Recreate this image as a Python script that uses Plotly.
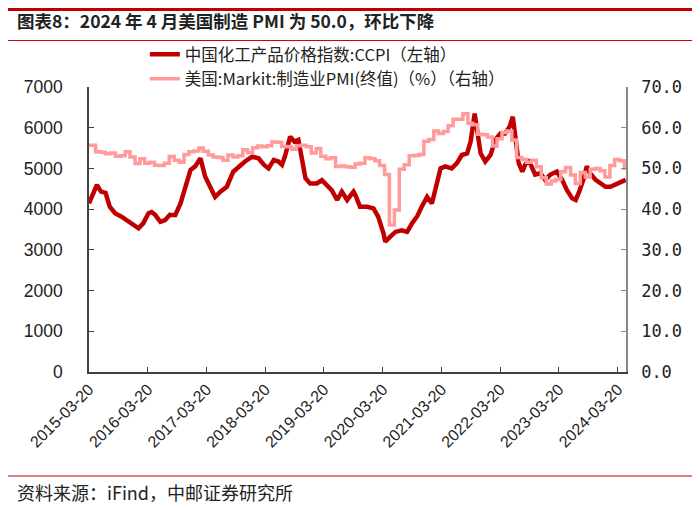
import plotly.graph_objects as go

# 中国化工产品价格指数 CCPI (left axis)
ccpi_dates = [
    '2015-03-20', '2015-05-08', '2015-06-03', '2015-07-01', '2015-07-27', '2015-08-29',
    '2015-10-08', '2015-11-22', '2016-01-22', '2016-02-20', '2016-03-24', '2016-04-12',
    '2016-05-04', '2016-06-06', '2016-07-05', '2016-08-04', '2016-09-06', '2016-10-09',
    '2016-11-07', '2016-12-10', '2017-01-08', '2017-02-10', '2017-03-11', '2017-04-13',
    '2017-05-12', '2017-06-14', '2017-07-24', '2017-09-02', '2017-10-05', '2017-11-14',
    '2017-12-28', '2018-02-06', '2018-03-11', '2018-04-09', '2018-05-12', '2018-06-10',
    '2018-07-02', '2018-07-20', '2018-08-22', '2018-09-17', '2018-10-12', '2018-11-03',
    '2018-11-25', '2018-12-24', '2019-02-03', '2019-03-07', '2019-04-09', '2019-05-08',
    '2019-06-10', '2019-07-09', '2019-08-11', '2019-09-20', '2019-10-01', '2019-10-30',
    '2019-11-10', '2019-12-13', '2020-01-22', '2020-02-20', '2020-03-24', '2020-04-04',
    '2020-05-04', '2020-06-06', '2020-07-16', '2020-08-18', '2020-09-16', '2020-10-19',
    '2020-11-17', '2020-12-20', '2021-01-19', '2021-02-20', '2021-03-14', '2021-04-12',
    '2021-05-22', '2021-06-24', '2021-07-24', '2021-08-26', '2021-09-17', '2021-10-12',
    '2021-10-27', '2021-11-18', '2021-12-17', '2022-01-19', '2022-02-17', '2022-03-21',
    '2022-04-19', '2022-05-18', '2022-06-06', '2022-06-21', '2022-07-13', '2022-08-04',
    '2022-08-22', '2022-09-13', '2022-10-01', '2022-10-23', '2022-11-25', '2022-12-24',
    '2023-01-26', '2023-03-07', '2023-04-09', '2023-05-08', '2023-06-10', '2023-07-02',
    '2023-07-24', '2023-08-22', '2023-09-09', '2023-10-01', '2023-11-03', '2023-12-02',
    '2024-01-04', '2024-02-03', '2024-03-14', '2024-05-08'
]
ccpi_values = [
    4143, 4594, 4430, 4400, 4061, 3900,
    3815, 3693, 3530, 3650, 3900, 3930,
    3860, 3690, 3730, 3860, 3850, 4140,
    4510, 4960, 5050, 5250, 4800, 4550,
    4300, 4430, 4550, 4920, 5050, 5170,
    5290, 5250, 5090, 5000, 5210, 5170,
    5090, 5290, 5780, 5660, 5700, 5290,
    4760, 4630, 4630, 4710, 4590, 4460,
    4225, 4430, 4225, 4430, 4350, 4060,
    4060, 4060, 4020, 3815, 3405, 3200,
    3320, 3440, 3480, 3440, 3640, 3820,
    4060, 4300, 4140, 4720, 5000, 5050,
    5000, 5130, 5330, 5370, 5660, 6350,
    5940, 5370, 5170, 5330, 5700, 5860,
    5860, 6030, 6270, 5700, 5130, 4920,
    5090, 5210, 5050, 4850, 4880, 4720,
    4850, 4920, 4720, 4470, 4265, 4225,
    4430, 4760, 5050, 4880, 4720, 4630,
    4550, 4550, 4630, 4720
]

# 美国 Markit 制造业PMI 终值 (right axis), monthly
pmi_dates = [
    '2015-03-20', '2015-04-30', '2015-05-31', '2015-06-30', '2015-07-31', '2015-08-31',
    '2015-09-30', '2015-10-31', '2015-11-30', '2015-12-31',
    '2016-01-31', '2016-02-29', '2016-03-31', '2016-04-30', '2016-05-31', '2016-06-30',
    '2016-07-31', '2016-08-31', '2016-09-30', '2016-10-31', '2016-11-30', '2016-12-31',
    '2017-01-31', '2017-02-28', '2017-03-31', '2017-04-30', '2017-05-31', '2017-06-30',
    '2017-07-31', '2017-08-31', '2017-09-30', '2017-10-31', '2017-11-30', '2017-12-31',
    '2018-01-31', '2018-02-28', '2018-03-31', '2018-04-30', '2018-05-31', '2018-06-30',
    '2018-07-31', '2018-08-31', '2018-09-30', '2018-10-31', '2018-11-30', '2018-12-31',
    '2019-01-31', '2019-02-28', '2019-03-31', '2019-04-30', '2019-05-31', '2019-06-30',
    '2019-07-31', '2019-08-31', '2019-09-30', '2019-10-31', '2019-11-30', '2019-12-31',
    '2020-01-31', '2020-02-29', '2020-03-31', '2020-04-30', '2020-05-31', '2020-06-30',
    '2020-07-31', '2020-08-31', '2020-09-30', '2020-10-31', '2020-11-30', '2020-12-31',
    '2021-01-31', '2021-02-28', '2021-03-31', '2021-04-30', '2021-05-31', '2021-06-30',
    '2021-07-31', '2021-08-31', '2021-09-30', '2021-10-31', '2021-11-30', '2021-12-31',
    '2022-01-31', '2022-02-28', '2022-03-31', '2022-04-30', '2022-05-31', '2022-06-30',
    '2022-07-31', '2022-08-31', '2022-09-30', '2022-10-31', '2022-11-30', '2022-12-31',
    '2023-01-31', '2023-02-28', '2023-03-31', '2023-04-30', '2023-05-31', '2023-06-30',
    '2023-07-31', '2023-08-31', '2023-09-30', '2023-10-31', '2023-11-30', '2023-12-31',
    '2024-01-31', '2024-02-29', '2024-03-31', '2024-04-30', '2024-05-08'
]
pmi_values = [
    55.7, 54.1, 54.0, 53.6, 53.8, 53.0, 53.1, 54.1, 52.8, 51.2,
    52.4, 51.3, 51.5, 50.8, 50.7, 51.3, 52.9, 52.0, 51.5, 53.4, 54.1, 54.3,
    55.0, 54.2, 53.3, 52.8, 52.7, 52.0, 53.3, 52.8, 53.1, 54.6, 53.9, 55.1,
    55.5, 55.3, 55.6, 56.5, 56.4, 55.4, 55.3, 54.7, 55.6, 55.7, 55.3, 53.8,
    54.9, 53.0, 52.4, 52.6, 50.5, 50.6, 50.4, 50.3, 51.1, 51.3, 52.6, 52.4,
    51.9, 50.7, 48.5, 36.1, 39.8, 49.8, 50.9, 53.1, 53.2, 53.4, 56.7, 57.1,
    59.2, 58.6, 59.1, 60.5, 62.1, 62.1, 63.4, 61.1, 60.7, 58.4, 58.3, 57.7,
    55.5, 57.3, 58.8, 59.2, 57.0, 52.7, 52.2, 51.5, 52.0, 50.4, 47.7, 46.2,
    46.9, 47.3, 49.2, 50.2, 48.4, 46.3, 49.0, 47.9, 49.8, 50.0, 49.4, 47.9,
    50.7, 52.2, 51.9, 50.0, 50.0
]

tick_dates = ['2015-03-20', '2016-03-20', '2017-03-20', '2018-03-20', '2019-03-20',
              '2020-03-20', '2021-03-20', '2022-03-20', '2023-03-20', '2024-03-20']

CJK = 'Noto Sans CJK SC'

fig = go.Figure()

fig.add_trace(go.Scatter(
    x = pmi_dates,
    y = pmi_values,
    name = '美国:Markit:制造业PMI(终值)（%）（右轴）',
    mode = 'lines',
    line = dict(color = '#FF9B9B', width = 3.5, shape = 'hv'),
    yaxis = 'y2'
))

fig.add_trace(go.Scatter(
    x = ccpi_dates,
    y = ccpi_values,
    name = '中国化工产品价格指数:CCPI（左轴）',
    mode = 'lines',
    line = dict(color = '#C00000', width = 4.5),
    yaxis = 'y'
))

# page body has an 8px margin, so the figure is 692x500 and offset accordingly
fig.update_layout(
    width = 692,
    height = 500,
    margin = dict(l = 81, r = 74, t = 79, b = 136),
    plot_bgcolor = 'white',
    paper_bgcolor = 'white',
    font = dict(family = CJK, color = '#222222'),
    legend = dict(
        x = 0.104, y = 1.175, xanchor = 'left', yanchor = 'top',
        traceorder = 'reversed',
        font = dict(family = CJK, size = 16.5, color = '#222222'),
        bgcolor = 'rgba(0,0,0,0)',
        tracegroupgap = 0, itemwidth = 30
    ),
    xaxis = dict(
        type = 'date',
        range = ['2015-03-20', '2024-05-10'],
        tickvals = tick_dates,
        ticktext = tick_dates,
        tickangle = -45,
        ticks = 'inside', ticklen = 5, tickcolor = '#404040',
        showline = True, linecolor = '#404040', linewidth = 1.5,
        showgrid = False, zeroline = False, automargin = False,
        tickfont = dict(family = 'Liberation Sans', size = 16, color = '#222222')
    ),
    yaxis = dict(
        range = [0, 7000], dtick = 1000,
        ticks = 'inside', ticklen = 5, tickcolor = '#404040',
        showline = True, linecolor = '#404040', linewidth = 1.5,
        showgrid = False, zeroline = False, automargin = False,
        ticklabelstandoff = 21,
        tickfont = dict(family = 'Liberation Sans', size = 17.5, color = '#222222')
    ),
    yaxis2 = dict(
        range = [0, 70], dtick = 10, tickformat = '.1f',
        overlaying = 'y', side = 'right',
        ticks = 'inside', ticklen = 5, tickcolor = '#888888',
        showline = True, linecolor = '#888888', linewidth = 1.5,
        showgrid = False, zeroline = False, automargin = False,
        ticklabelstandoff = 10,
        tickfont = dict(family = 'DejaVu Sans Mono', size = 17, color = '#222222')
    ),
    shapes = [
        dict(type = 'line', xref = 'paper', yref = 'paper', x0 = -0.151, x1 = 1.138,
             y0 = 1.272, y1 = 1.272, line = dict(color = '#C00000', width = 3)),
        dict(type = 'line', xref = 'paper', yref = 'paper', x0 = -0.151, x1 = 1.138,
             y0 = 1.163, y1 = 1.163, line = dict(color = '#C00000', width = 1)),
        dict(type = 'line', xref = 'paper', yref = 'paper', x0 = -0.151, x1 = 1.138,
             y0 = -0.365, y1 = -0.365, line = dict(color = '#C00000', width = 1)),
    ],
    annotations = [
        dict(text = '<b>图表8：2024 年 4 月美国制造 PMI 为 50.0，环比下降</b>',
             xref = 'paper', yref = 'paper', x = -0.138, y = 1.232,
             xanchor = 'left', yanchor = 'middle', showarrow = False,
             font = dict(family = CJK, size = 17.5, color = '#222222')),
        dict(text = '资料来源：iFind，中邮证券研究所',
             xref = 'paper', yref = 'paper', x = -0.138, y = -0.42,
             xanchor = 'left', yanchor = 'middle', showarrow = False,
             font = dict(family = CJK, size = 18, color = '#222222')),
    ]
)

fig.write_html("out.html")
